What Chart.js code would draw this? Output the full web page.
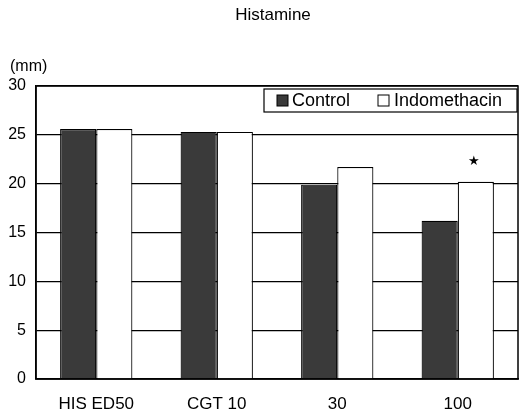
<!DOCTYPE html>
<html>
<head>
<meta charset="utf-8">
<script src="https://cdn.jsdelivr.net/npm/chart.js@4"></script>
<style>
html,body{margin:0;padding:0;background:#fff;}
#wrap{width:522px;height:414px;position:relative;}
</style>
</head>
<body>
<div id="wrap"><canvas id="c" width="522" height="414"></canvas></div>
<script>
const categories = ["HIS ED50", "CGT 10", "30", "100"];
const controlValues = [25.6, 25.3, 19.9, 16.2];
const indomethacinValues = [25.6, 25.3, 21.7, 20.2];
const yTicks = [0, 5, 10, 15, 20, 25, 30];
const seriesNames = ["Control", "Indomethacin"];
const titleText = "Histamine";
const unitText = "(mm)";
const starMarks = [false, false, false, true];

const FONT = "'Liberation Sans', Arial, sans-serif";

const decor = {
  id: 'decor',
  afterDraw(chart) {
    const ctx = chart.ctx;
    const a = chart.chartArea;
    ctx.save();
    ctx.strokeStyle = '#000';
    ctx.lineWidth = 1.5;
    ctx.strokeRect(a.left, a.top, a.right - a.left, a.bottom - a.top);
    ctx.fillStyle = '#000';
    ctx.font = "17px " + FONT;
    ctx.textAlign = 'center';
    ctx.textBaseline = 'middle';
    ctx.fillText(titleText, 273, 15);
    ctx.textAlign = 'left';
    ctx.font = "16px " + FONT;
    ctx.fillText(unitText, 10, 67);
    const meta = chart.getDatasetMeta(1);
    ctx.font = "13px " + FONT;
    ctx.textAlign = 'center';
    starMarks.forEach((s, i) => {
      if (!s) return;
      const el = meta.data[i];
      ctx.fillText('\u2605', el.x - 2, el.y - 20);
    });
    const lx = 264, ly = 89, lw = 253, lh = 23;
    ctx.fillStyle = '#fff';
    ctx.fillRect(lx, ly, lw, lh);
    ctx.lineWidth = 1.2;
    ctx.strokeRect(lx, ly, lw, lh);
    ctx.fillStyle = '#3a3a3a';
    ctx.fillRect(277, 95, 11, 11);
    ctx.lineWidth = 1;
    ctx.strokeRect(277, 95, 11, 11);
    ctx.fillStyle = '#fff';
    ctx.fillRect(378, 95, 11, 11);
    ctx.strokeRect(378, 95, 11, 11);
    ctx.fillStyle = '#000';
    ctx.font = "18px " + FONT;
    ctx.textAlign = 'left';
    ctx.fillText(seriesNames[0], 292, 101);
    ctx.fillText(seriesNames[1], 394, 101);
    ctx.restore();
  }
};

new Chart(document.getElementById('c'), {
  type: 'bar',
  data: {
    labels: categories,
    datasets: [
      { label: seriesNames[0], data: controlValues, backgroundColor: '#3a3a3a', borderColor: '#000', borderWidth: 1.2, categoryPercentage: 0.6, barPercentage: 1.0 },
      { label: seriesNames[1], data: indomethacinValues, backgroundColor: '#fff', borderColor: '#000', borderWidth: 1.2, categoryPercentage: 0.6, barPercentage: 1.0 }
    ]
  },
  options: {
    responsive: false,
    animation: false,
    layout: { padding: { left: 0, right: 4, top: 86, bottom: 0 } },
    plugins: { legend: { display: false }, title: { display: false }, tooltip: { enabled: false } },
    scales: {
      x: {
        grid: { display: false, drawTicks: false },
        border: { color: '#000', width: 1.5 },
        ticks: { color: '#000', font: { family: FONT, size: 17 }, padding: 15 },
        afterFit(s) { s.height = 35; }
      },
      y: {
        min: 0, max: 30,
        afterBuildTicks(s) { s.ticks = yTicks.map(v => ({ value: v })); },
        grid: { color: '#000', lineWidth: 1.2, drawTicks: false },
        border: { color: '#000', width: 1.5 },
        ticks: { color: '#000', font: { family: FONT, size: 16 }, padding: 10 },
        afterFit(s) { s.width = 36; }
      }
    }
  },
  plugins: [decor]
});
</script>
</body>
</html>
